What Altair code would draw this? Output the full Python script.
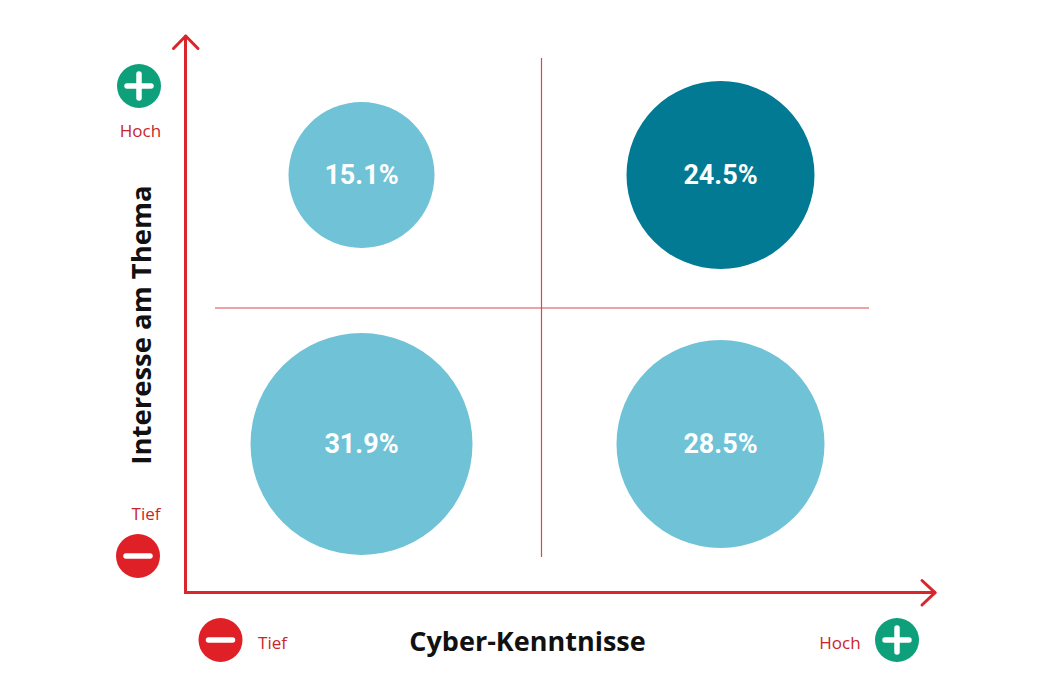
import altair as alt
import pandas as pd

kenntnisse = ["Tief", "Hoch", "Tief", "Hoch"]
interesse = ["Hoch", "Hoch", "Tief", "Tief"]
anteile = [15.1, 24.5, 31.9, 28.5]
gruppe = ["normal", "top", "normal", "normal"]
labels = ["15.1%", "24.5%", "31.9%", "28.5%"]

RED = "#D8262B"
THIN = "#D9484C"
ICON_RED = "#DF2027"
GREEN = "#0E9F7B"
LABEL_RED = "#C9252B"
OFF = 8
FONT = "Open Sans"

df = pd.DataFrame({"k": kenntnisse, "i": interesse, "a": anteile, "g": gruppe, "l": labels})

xs = alt.Scale(domain=["Tief", "Hoch"], range=[353.5, 712.5], padding=0)
ys = alt.Scale(domain=["Hoch", "Tief"], range=[167, 436], padding=0)
area = alt.Scale(domain=[15.1, 24.5, 28.5, 31.9], range=[21316, 35344, 43264, 49284])


def seg(x1, y1, x2, y2, color, w, cap="butt"):
    return alt.Chart().mark_rule(color=color, strokeWidth=w, strokeCap=cap).encode(
        x=alt.value(x1 - OFF), x2=alt.value(x2 - OFF),
        y=alt.value(y1 - OFF), y2=alt.value(y2 - OFF),
    )


def label(txt, x, y, size=17, color=LABEL_RED, weight="normal", angle=0):
    return alt.Chart().mark_text(
        text=txt, font=FONT, fontSize=size, color=color, fontWeight=weight,
        align="center", baseline="middle", angle=angle,
    ).encode(x=alt.value(x - OFF), y=alt.value(y - OFF))


def icon(x, y, color, plus):
    dot = alt.Chart().mark_circle(color=color, opacity=1, size=1936).encode(
        x=alt.value(x - OFF), y=alt.value(y - OFF))
    parts = [dot, seg(x - 12, y, x + 12, y, "white", 5.5, "round")]
    if plus:
        parts.append(seg(x, y - 12, x, y + 12, "white", 5.5, "round"))
    return parts


bubbles = alt.Chart(df).mark_circle(opacity=1).encode(
    x=alt.X("k:N", scale=xs, axis=None),
    y=alt.Y("i:N", scale=ys, axis=None),
    size=alt.Size("a:Q", scale=area, legend=None),
    color=alt.Color("g:N", scale=alt.Scale(domain=["normal", "top"], range=["#70C2D6", "#027A94"]), legend=None),
)
values = alt.Chart(df).mark_text(
    font="Roboto", fontSize=27, fontWeight="bold", color="white", align="center", baseline="middle", dy=0.5
).encode(
    x=alt.X("k:N", scale=xs, axis=None),
    y=alt.Y("i:N", scale=ys, axis=None),
    text="l:N",
)

layers = [
    seg(541.5, 58, 541.5, 557, THIN, 1.2),
    seg(215, 308, 869, 308, THIN, 1.2),
    bubbles,
    values,
    seg(185.5, 594, 185.5, 36, RED, 3),
    seg(184, 592.5, 934, 592.5, RED, 3),
    seg(173.5, 48.5, 185.7, 36, RED, 3, "round"),
    seg(198, 48.5, 185.7, 36, RED, 3, "round"),
    seg(922, 580.5, 935, 592.7, RED, 3, "round"),
    seg(922, 605, 935, 592.7, RED, 3, "round"),
    label("Cyber-Kenntnisse", 527.5, 643, 27, "#111111", "bold"),
    label("Interesse am Thema", 143, 325, 27.5, "#111111", "bold", 270),
    label("Hoch", 140.5, 132),
    label("Tief", 146, 515),
    label("Tief", 272.5, 644),
    label("Hoch", 840, 644),
]
layers += icon(139, 86, GREEN, True)
layers += icon(138, 556, ICON_RED, False)
layers += icon(220.5, 640, ICON_RED, False)
layers += icon(897, 640, GREEN, True)

chart = alt.layer(*layers).properties(
    width=1034, height=684, padding=0, autosize=alt.AutoSizeParams(type="none"),
    background="white",
).configure_view(stroke=None)

chart.save("out.html", embed_options={"renderer": "svg", "actions": False})
